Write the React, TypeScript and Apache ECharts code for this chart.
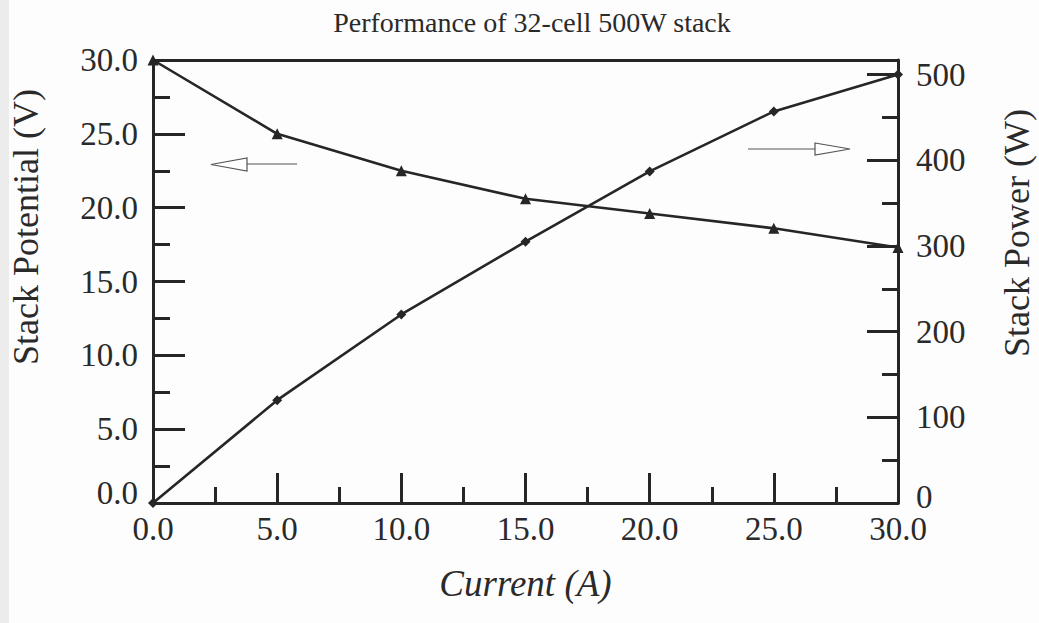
import React, { useEffect, useRef } from "react";
import * as echarts from "echarts";

const titleText = "Performance of 32-cell 500W stack";
const xName = "Current (A)";
const leftName = "Stack Potential (V)";
const rightName = "Stack Power (W)";

const current = [0, 5, 10, 15, 20, 25, 30];
const voltage = [30.0, 25.0, 22.5, 20.6, 19.6, 18.6, 17.3];
const power = [0, 120, 220, 305, 387, 457, 500];

const FONT = "'Liberation Serif', 'Times New Roman', serif";
const INK = "#262626";
const TEXT = "#2a2a2a";

export default function App() {
  const ref = useRef<HTMLDivElement>(null);

  useEffect(() => {
    if (!ref.current) return;
    const chart = echarts.init(ref.current, null, { renderer: "svg" });

    const axisLine = { show: true, onZero: false, lineStyle: { color: INK, width: 3 } };
    const labelBase = { fontFamily: FONT, fontSize: 33, color: TEXT };

    const option: any = {
      animation: false,
      backgroundColor: "#fdfdfd",
      title: {
        text: titleText,
        left: 527,
        top: 3,
        textAlign: "center",
        textStyle: { fontFamily: FONT, fontSize: 28, fontWeight: "normal", color: TEXT },
      },
      grid: { left: 153, right: 141, top: 60, bottom: 120, outerBoundsMode: "none" },
      xAxis: [
        {
          type: "value",
          position: "bottom",
          min: 0,
          max: 30,
          interval: 5,
          axisLine,
          axisTick: { show: true, inside: true, length: 30, lineStyle: { color: INK, width: 3 } },
          minorTick: { show: true, splitNumber: 2, length: 16, lineStyle: { color: INK, width: 3 } },
          splitLine: { show: false },
          minorSplitLine: { show: false },
          axisLabel: {
            ...labelBase,
            formatter: (v: number) => v.toFixed(1),
            margin: 9,
          },
          name: xName,
          nameLocation: "middle",
          nameGap: 62,
          nameTextStyle: { fontFamily: FONT, fontSize: 37, fontStyle: "italic", color: TEXT },
        },
        {
          type: "value",
          position: "top",
          min: 0,
          max: 30,
          axisLine,
          axisTick: { show: false },
          axisLabel: { show: false },
          splitLine: { show: false },
        },
      ],
      yAxis: [
        {
          type: "value",
          position: "left",
          min: 0,
          max: 30,
          interval: 5,
          axisLine,
          axisTick: { show: true, inside: true, length: 32, lineStyle: { color: INK, width: 3 } },
          minorTick: { show: true, splitNumber: 2, length: 17, lineStyle: { color: INK, width: 3 } },
          splitLine: { show: false },
          minorSplitLine: { show: false },
          axisLabel: {
            ...labelBase,
            formatter: (v: number) => (v === 0 ? "{z|0.0}" : v.toFixed(1)),
            margin: 15,
            rich: { z: { ...labelBase, padding: [0, 0, 20, 0] } },
          },
        },
        {
          type: "value",
          position: "right",
          min: 0,
          max: 517,
          interval: 100,
          axisLine,
          axisTick: { show: true, inside: true, length: 31, lineStyle: { color: INK, width: 3 } },
          splitLine: { show: false },
          axisLabel: {
            ...labelBase,
            formatter: (v: number) =>
              v === 0 ? "{z|0}" : v % 100 === 0 ? String(v) : "",
            margin: 18,
            rich: { z: { ...labelBase, padding: [0, 0, 12, 0] } },
          },
        },
        {
          type: "value",
          position: "right",
          min: 0,
          max: 517,
          interval: 50,
          axisLine: { show: false, onZero: false },
          axisTick: { show: true, inside: true, length: 16, lineStyle: { color: INK, width: 3 } },
          splitLine: { show: false },
          axisLabel: { show: false },
        },
      ],
      series: [
        {
          name: "Stack Potential",
          type: "line",
          xAxisIndex: 0,
          yAxisIndex: 0,
          data: current.map((c, i) => [c, voltage[i]]),
          symbol: "triangle",
          symbolSize: 11,
          lineStyle: { color: INK, width: 2.6 },
          itemStyle: { color: INK },
        },
        {
          name: "Stack Power",
          type: "line",
          xAxisIndex: 0,
          yAxisIndex: 1,
          data: current.map((c, i) => [c, power[i]]),
          symbol: "diamond",
          symbolSize: 10,
          lineStyle: { color: INK, width: 2.6 },
          itemStyle: { color: INK },
        },
      ],
      graphic: [
        {
          type: "rect",
          shape: { x: 0, y: 0, width: 9, height: 623 },
          style: { fill: "#ececec" },
          silent: true,
          z: -10,
        },
        {
          type: "text",
          x: 26,
          y: 227,
          rotation: Math.PI / 2,
          style: {
            text: leftName,
            font: `36px ${FONT}`,
            fill: TEXT,
            textAlign: "center",
            textVerticalAlign: "middle",
          },
        },
        {
          type: "text",
          x: 1017,
          y: 233,
          rotation: Math.PI / 2,
          style: {
            text: rightName,
            font: `36px ${FONT}`,
            fill: TEXT,
            textAlign: "center",
            textVerticalAlign: "middle",
          },
        },
        {
          type: "line",
          shape: { x1: 247, y1: 164, x2: 297, y2: 164 },
          style: { stroke: "#555", lineWidth: 1.2 },
        },
        {
          type: "polygon",
          shape: { points: [[211, 164.5], [247, 158], [247, 171]] },
          style: { stroke: "#555", fill: "#fff", lineWidth: 1.2 },
        },
        {
          type: "line",
          shape: { x1: 748, y1: 149, x2: 815, y2: 149 },
          style: { stroke: "#555", lineWidth: 1.2 },
        },
        {
          type: "polygon",
          shape: { points: [[815, 143], [850, 149], [815, 155]] },
          style: { stroke: "#555", fill: "#fff", lineWidth: 1.2 },
        },
      ],
    };

    chart.setOption(option);
    return () => chart.dispose();
  }, []);

  return (
    <div
      ref={ref}
      style={{ position: "fixed", left: 0, top: 0, width: 1039, height: 623 }}
    />
  );
}
